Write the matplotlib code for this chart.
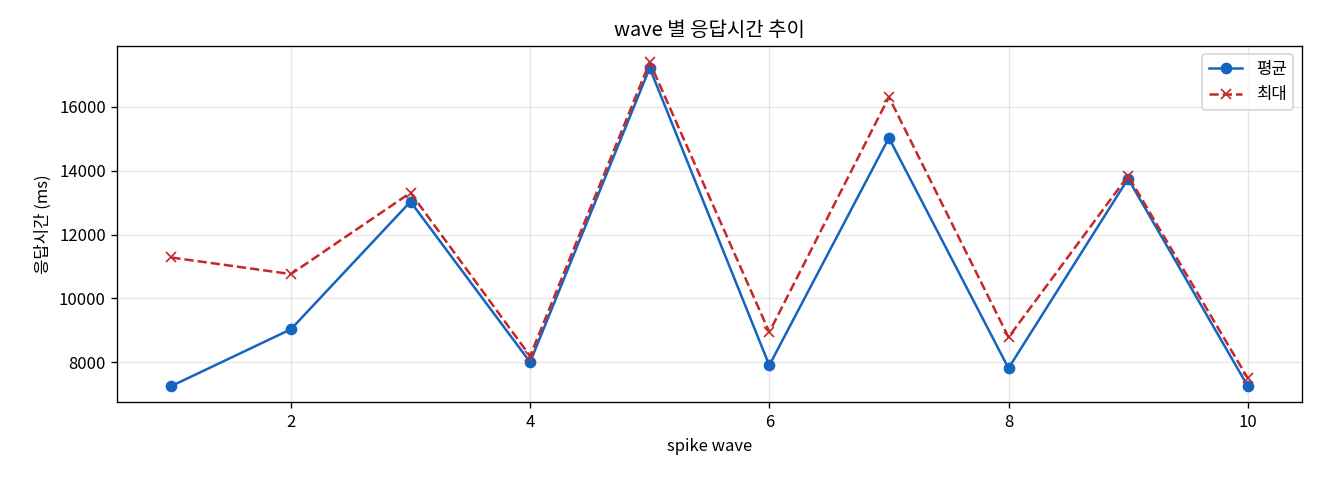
import matplotlib
matplotlib.use("Agg")
import matplotlib.pyplot as plt

plt.rcParams["font.family"] = ["Noto Sans CJK KR", "DejaVu Sans"]

waves = [1, 2, 3, 4, 5, 6, 7, 8, 9, 10]
avg_ms = [7250, 9030, 13030, 8000, 17220, 7900, 15030, 7810, 13750, 7250]
max_ms = [11280, 10760, 13310, 8190, 17400, 8940, 16310, 8780, 13840, 7500]

fig, ax = plt.subplots(figsize=(11, 4), dpi=120)
ax.plot(waves, avg_ms, marker="o", color="#1565c0", linewidth=1.5, markersize=6, label="평균")
ax.plot(waves, max_ms, marker="x", linestyle="--", color="#c62828", linewidth=1.5, markersize=6, label="최대")
ax.set_title("wave 별 응답시간 추이")
ax.set_xlabel("spike wave")
ax.set_ylabel("응답시간 (ms)")
ax.grid(True, alpha=0.3)
ax.legend(loc="upper right")

fig.subplots_adjust(left=0.089, right=0.986, top=0.904, bottom=0.162)
fig.savefig("out.png", dpi=120)
